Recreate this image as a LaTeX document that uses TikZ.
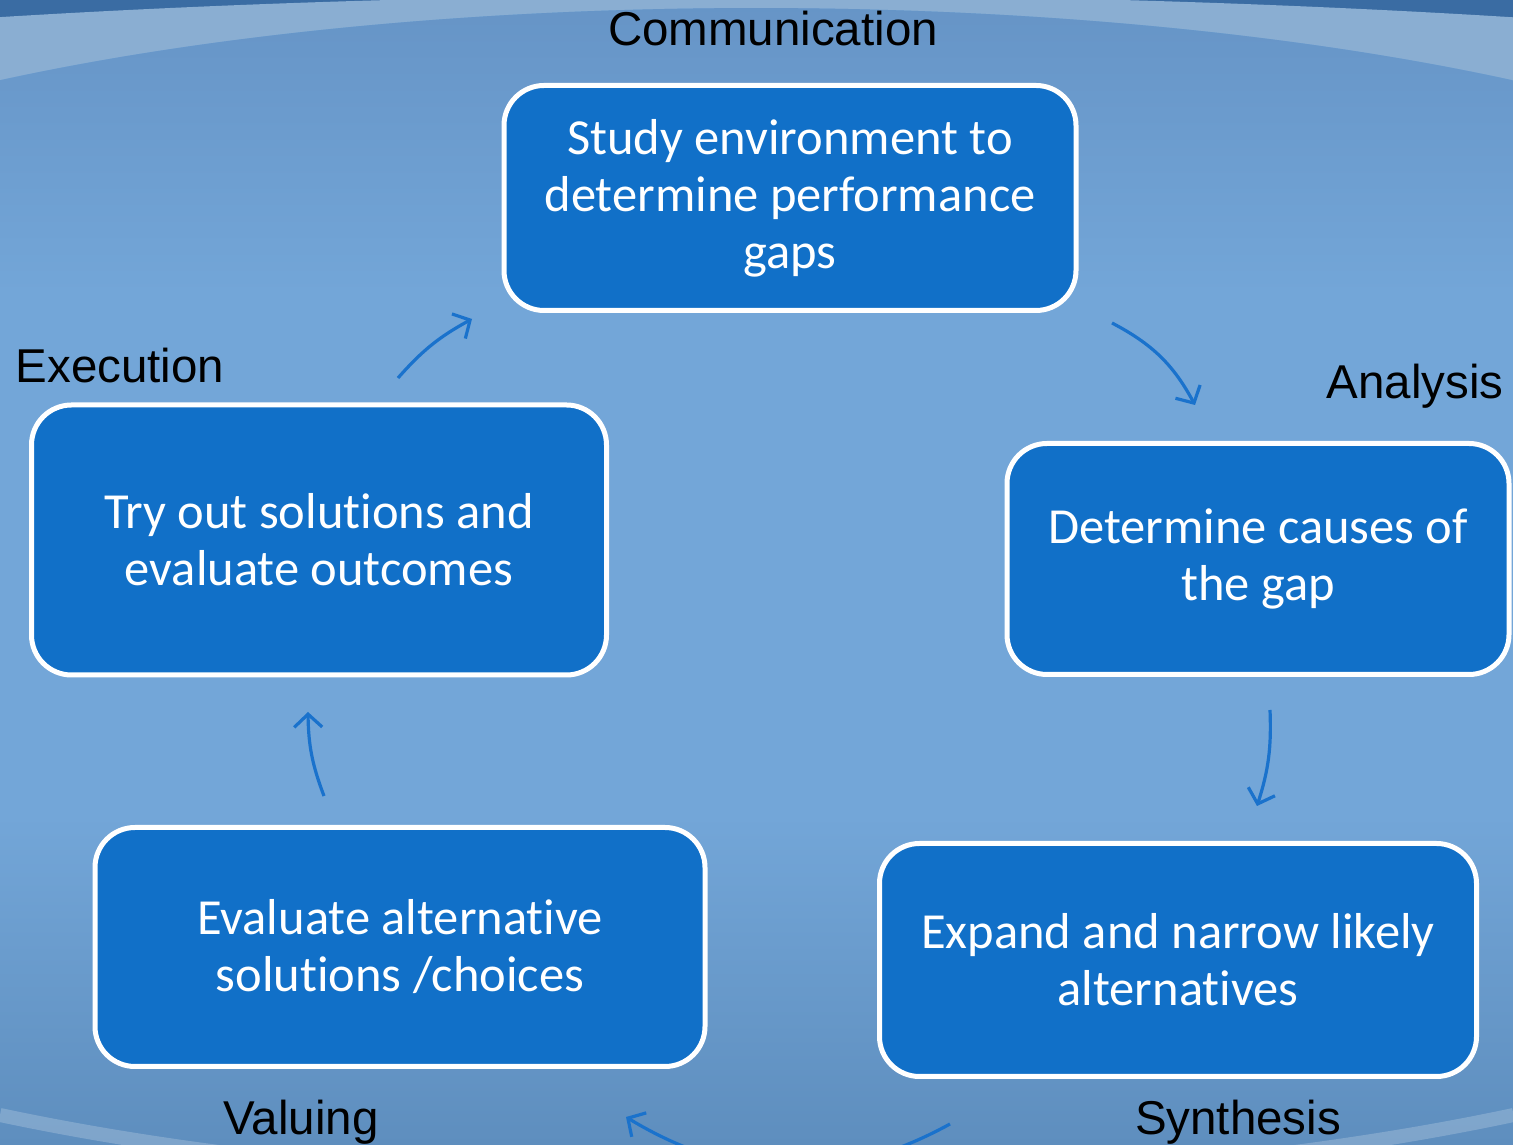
\documentclass[tikz,border=0pt]{standalone}
\usepackage{fontspec}
\setmainfont[Ligatures=NoCommon]{Carlito}
\newfontfamily\labelfont{Liberation Sans}
\usetikzlibrary{arrows.meta,positioning}
\definecolor{boxblue}{HTML}{1170C8}
\definecolor{arrowblue}{HTML}{1A72CC}
\definecolor{bgtop}{HTML}{6694C6}
\definecolor{bgmid}{HTML}{73A6D8}
\definecolor{bgbot}{HTML}{5E8EBE}
\definecolor{bgdark}{HTML}{3A6CA3}
\definecolor{bgband}{HTML}{8AAED2}
\tikzstyle{stage} = [rectangle, draw=white, line width=5pt, fill=boxblue,
    text=white, align=center, rounded corners=40pt,
    font=\fontsize{50.5}{57}\selectfont]
\tikzstyle{phase} = [text=black, anchor=base, font=\labelfont\fontsize{47.5}{56}\selectfont]
\tikzstyle{line} = [draw=arrowblue, line width=3.2pt,
    -{Straight Barb[length=13pt 0 0,width=28pt 0 0]}]

\begin{document}
\begin{tikzpicture}[x=1pt,y=1pt]
    % Background
    \useasboundingbox (0,0) rectangle (1513,1145);
    \begin{scope}
        \clip (0,0) rectangle (1513,1145);
        \fill [bgdark] (0,0) rectangle (1513,1145);
        \fill [bgband] (0,0) -- (1513,0) -- (1513,1127.7)
            arc [start angle=65.1, end angle=114.9, x radius=1800, y radius=240] -- cycle;
        \begin{scope}
            \clip (0,0) -- (1513,0) -- (1513,1064.6)
                arc [start angle=50.9, end angle=129.1, x radius=1200, y radius=323] -- cycle;
            \fill [bgmid] (0,0) rectangle (1513,1145);
            \shade [top color=bgtop, bottom color=bgmid] (0,850) rectangle (1513,1145);
            \shade [top color=bgmid, bottom color=bgbot] (0,0) rectangle (1513,330);
        \end{scope}
        \draw [white, opacity=0.2, line width=14pt]
            (0,30) arc [start angle=-129.1, end angle=-50.9, x radius=1200, y radius=314];
    \end{scope}
    % Place nodes
    \node [stage, minimum width=572pt, minimum height=225pt] (study) at (790,947)
        {Study environment to\\ determine performance\\ gaps};
    \node [stage, minimum width=502pt, minimum height=231pt] (causes) at (1258,586)
        {Determine causes of\\ the gap};
    \node [stage, minimum width=597pt, minimum height=233pt] (expand) at (1178,185)
        {Expand and narrow likely\\ alternatives};
    \node [stage, minimum width=610pt, minimum height=239pt] (evaluate) at (400,198)
        {Evaluate alternative\\ solutions /choices};
    \node [stage, minimum width=575pt, minimum height=270pt] (tryout) at (319,605)
        {Try out solutions and\\ evaluate outcomes};
    % Phase labels
    \node [phase] (communication) at (773,1099) {Communication};
    \node [phase] (analysis) at (1415,746) {Analysis};
    \node [phase] (synthesis) at (1238,10) {Synthesis};
    \node [phase] (valuing) at (301,10) {Valuing};
    \node [phase] (execution) at (120,762) {Execution};
    % Arrow ends
    \coordinate (a1) at (1112,822);
    \coordinate (a2) at (1195,740);
    \coordinate (b1) at (1270,435);
    \coordinate (b2) at (1257,339);
    \coordinate (c1) at (950,21);
    \coordinate (c2) at (626,28);
    \coordinate (d1) at (324,349);
    \coordinate (d2) at (308,433);
    \coordinate (e1) at (398,767);
    \coordinate (e2) at (472,826);
    % Draw edges
    \path [line] (a1) to [bend left=17] (a2);
    \path [line] (b1) to [bend left=10] (b2);
    \path [line] (c1) to [bend left=30] (c2);
    \path [line] (d1) to [bend left=10] (d2);
    \path [line] (e1) to [bend left=10] (e2);
\end{tikzpicture}
\end{document}
